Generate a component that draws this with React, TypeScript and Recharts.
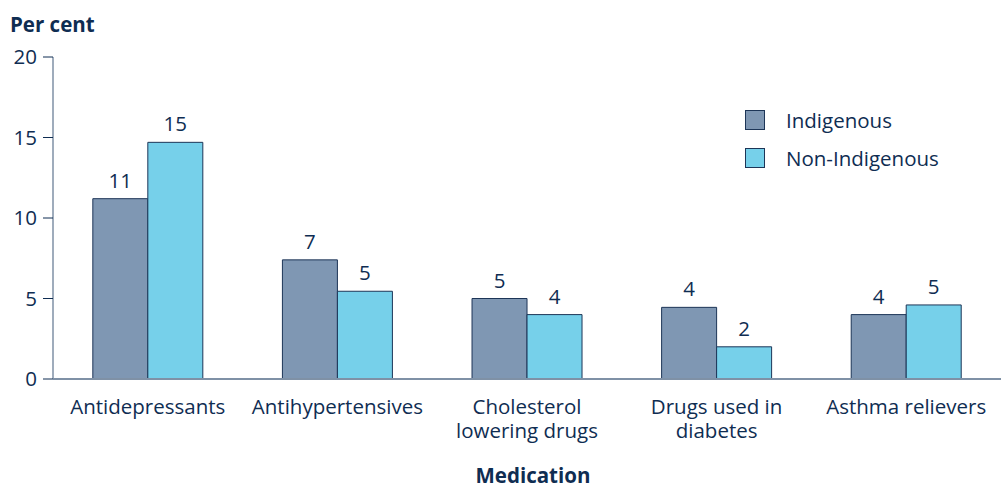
import React from "react";
import { BarChart, Bar, XAxis, YAxis, LabelList } from "recharts";

// categories (line breaks where the label wraps)
const categories = [
  "Antidepressants",
  "Antihypertensives",
  "Cholesterol\nlowering drugs",
  "Drugs used in\ndiabetes",
  "Asthma relievers",
];
const indigenous = [11.2, 7.4, 5.0, 4.45, 4.0];
const nonIndigenous = [14.7, 5.45, 4.0, 2.0, 4.6];
const yTicks = [0, 5, 10, 15, 20];

const data = categories.map((c, i) => ({
  name: c,
  indigenous: indigenous[i],
  nonIndigenous: nonIndigenous[i],
}));

const TEXT = "#0f2d52";
const AXIS = "#7f91a6";
const FONT = "'Open Sans', sans-serif";
const FS = 20.5;

const CategoryTick = (props: any) => {
  const { x, y, payload } = props;
  const lines = String(payload.value).split("\n");
  return (
    <g transform={`translate(${x},${y})`}>
      {lines.map((l: string, i: number) => (
        <text
          key={i}
          x={0}
          y={27 + i * 24}
          textAnchor="middle"
          fill={TEXT}
          fontSize={FS}
          fontFamily={FONT}
        >
          {l}
        </text>
      ))}
    </g>
  );
};

const legendItems = [
  { label: "Indigenous", fill: "#7f97b3" },
  { label: "Non-Indigenous", fill: "#76d0ea" },
];

export default function App() {
  return (
    <div
      style={{
        position: "fixed",
        left: 0,
        top: 0,
        width: 1001,
        height: 486,
        background: "#fff",
        fontFamily: FONT,
        overflow: "hidden",
      }}
    >
      <BarChart
        width={1001}
        height={486}
        data={data}
        margin={{ top: 57, right: 0, left: 0, bottom: 47 }}
        barCategoryGap="21%"
        barGap={0}
      >
        <XAxis
          dataKey="name"
          height={60}
          interval={0}
          tick={<CategoryTick />}
          tickLine={false}
          axisLine={{ stroke: AXIS, strokeWidth: 2 }}
        />
        <YAxis
          width={53}
          domain={[0, 20]}
          ticks={yTicks}
          tickSize={10}
          tickLine={{ stroke: TEXT }}
          axisLine={{ stroke: AXIS, strokeWidth: 1.5 }}
          tick={{ fill: TEXT, fontSize: FS, fontFamily: FONT, dx: -4 }}
        />
        <Bar
          dataKey="indigenous"
          fill="#7f97b3"
          stroke="#1d3557"
          strokeWidth={1}
          isAnimationActive={false}
        >
          <LabelList
            dataKey="indigenous"
            position="top"
            offset={11}
            formatter={(v: any) => Math.round(Number(v))}
            style={{ fill: TEXT, fontSize: FS, fontFamily: FONT }}
          />
        </Bar>
        <Bar
          dataKey="nonIndigenous"
          fill="#76d0ea"
          stroke="#1d3557"
          strokeWidth={1}
          isAnimationActive={false}
        >
          <LabelList
            dataKey="nonIndigenous"
            position="top"
            offset={11}
            formatter={(v: any) => Math.round(Number(v))}
            style={{ fill: TEXT, fontSize: FS, fontFamily: FONT }}
          />
        </Bar>
      </BarChart>
      <div
        style={{
          position: "absolute",
          left: 10,
          top: 10,
          fontWeight: 700,
          fontSize: FS,
          lineHeight: "28px",
          color: TEXT,
        }}
      >
        Per cent
      </div>
      <div
        style={{
          position: "absolute",
          left: 433,
          width: 200,
          top: 464,
          textAlign: "center",
          fontWeight: 700,
          fontSize: FS,
          lineHeight: "22px",
          color: TEXT,
        }}
      >
        Medication
      </div>
      <div
        style={{
          position: "absolute",
          left: 745,
          top: 101,
          fontSize: FS,
          color: TEXT,
        }}
      >
        {legendItems.map((it) => (
          <div
            key={it.label}
            style={{ display: "flex", alignItems: "center", height: 38 }}
          >
            <span
              style={{
                width: 18,
                height: 18,
                background: it.fill,
                border: "1px solid #1d3557",
                marginRight: 21,
              }}
            />
            {it.label}
          </div>
        ))}
      </div>
    </div>
  );
}
